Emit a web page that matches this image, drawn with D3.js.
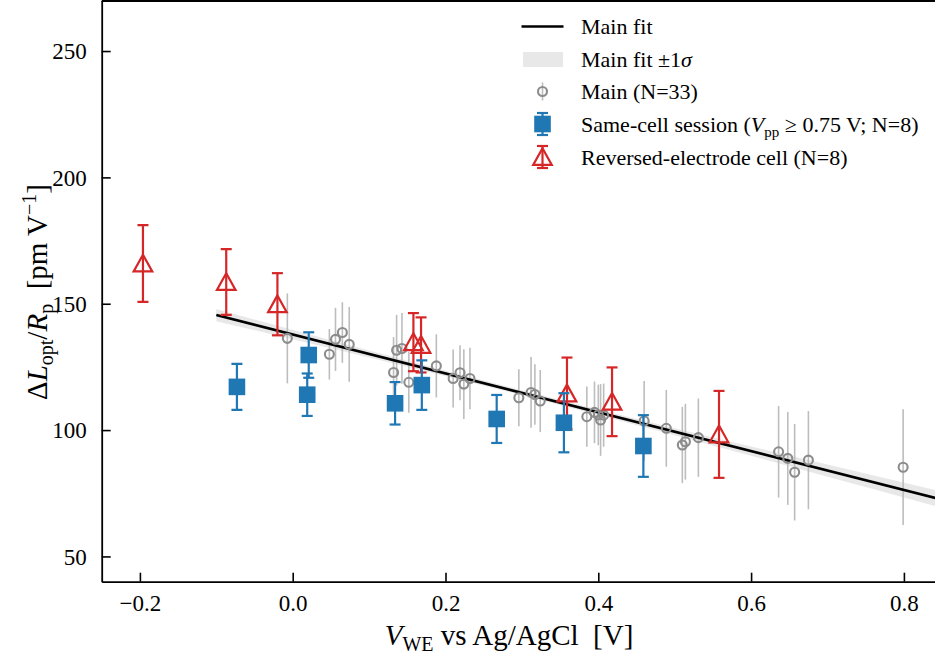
<!DOCTYPE html>
<html>
<head>
<meta charset="utf-8">
<script src="https://cdn.jsdelivr.net/npm/d3@7"></script>
<style>
  html, body { margin: 0; padding: 0; background: #fff; }
  svg { display: block; font-family: "Liberation Serif", "DejaVu Serif", serif; }
</style>
</head>
<body>
<svg id="chart" width="935" height="657"></svg>
<script>
// main data set (N=33): x [V], y [pm/V], err
const mainX = [-0.007, 0.048, 0.056, 0.065, 0.074, 0.132, 0.136, 0.143, 0.152, 0.188, 0.210, 0.219,
  0.224, 0.232, 0.296, 0.312, 0.317, 0.324, 0.385, 0.395, 0.403, 0.407, 0.460, 0.489, 0.510, 0.514,
  0.531, 0.636, 0.648, 0.657, 0.675, 0.799, 0.400];
const mainY = [136.3, 130.0, 135.9, 138.6, 133.9, 122.8, 131.6, 132.3, 118.9, 125.4, 120.4, 122.7,
  118.2, 120.4, 112.8, 114.9, 114.1, 111.5, 105.3, 107.0, 104.0, 105.9, 103.6, 100.7, 94.1, 95.4,
  97.0, 91.4, 88.8, 83.3, 88.1, 85.3, 106.0];
const mainErr = [17.8, 10, 12.5, 12, 14.8, 14, 14, 14, 12, 12.5, 11.5, 10.9,
  13.8, 12.2, 11.3, 14, 12, 12.3, 11.9, 12.2, 14.2, 12.5, 15.8, 15.2, 15.1, 15,
  15.5, 18.1, 18.4, 19.1, 19.4, 22.9, 12];

// same-cell session (N=8)
const sameX = [-0.073, 0.021, 0.019, 0.134, 0.169, 0.267, 0.355, 0.459];
const sameY = [117.1, 129.7, 114.0, 110.6, 117.8, 104.4, 102.9, 93.7];
const sameErr = [9.1, 9, 8.4, 8.4, 9.8, 9.5, 11.7, 12.2];

// reversed-electrode cell (N=8)
const revX = [-0.196, -0.087, -0.020, 0.158, 0.168, 0.359, 0.418, 0.558];
const revY = [165.9, 158.6, 149.8, 134.8, 133.7, 114.5, 111.2, 98.3];
const revErr = [15.2, 13, 12.3, 11.5, 10.9, 14.2, 13.6, 17.2];

// main fit and its 1-sigma band
const fitX = [-0.1, 0.9];
const fitY = [145.5, 68.6];
const bandX = [-0.1, 0.1, 0.3, 0.5, 0.7, 0.9];
const bandHalf = [2.4, 1.4, 1.0, 1.4, 2.4, 3.5];

const xTicks = [-0.2, 0.0, 0.2, 0.4, 0.6, 0.8];
const yTicks = [50, 100, 150, 200, 250];

const d3 = window.d3;
const svg = d3.select("#chart");
const W = 935, H = 657;
const plot = { left: 101.7, right: 942.1, top: 0.5, bottom: 581.7 };

const x = d3.scaleLinear().domain([-0.25, 0.85]).range([plot.left, plot.right]);
const y = d3.scaleLinear().domain([40, 270]).range([plot.bottom, plot.top]);

svg.append("defs").append("clipPath").attr("id", "clip")
  .append("rect")
  .attr("x", plot.left).attr("y", plot.top)
  .attr("width", plot.right - plot.left).attr("height", plot.bottom - plot.top);

const g = svg.append("g").attr("clip-path", "url(#clip)");

// band
const fitAt = (v) => fitY[0] + (fitY[1] - fitY[0]) * (v - fitX[0]) / (fitX[1] - fitX[0]);
const band = bandX.map((v, i) => ({ v, lo: fitAt(v) - bandHalf[i], hi: fitAt(v) + bandHalf[i] }));
g.append("path")
  .datum(band)
  .attr("fill", "#d9d9d9")
  .attr("fill-opacity", 0.6)
  .attr("d", d3.area().curve(d3.curveMonotoneX).x((d) => x(d.v)).y0((d) => y(d.lo)).y1((d) => y(d.hi)));

// main error bars + circles
const main = mainX.map((v, i) => ({ x: v, y: mainY[i], e: mainErr[i] }));
g.selectAll("line.mainerr")
  .data(main)
  .enter()
  .append("line")
  .attr("x1", (d) => x(d.x)).attr("x2", (d) => x(d.x))
  .attr("y1", (d) => y(d.y - d.e)).attr("y2", (d) => y(d.y + d.e))
  .attr("stroke", "#bdbdbd")
  .attr("stroke-width", 1.6);

// fit line
g.append("path")
  .datum(fitX.map((v, i) => [v, fitY[i]]))
  .attr("fill", "none")
  .attr("stroke", "#000")
  .attr("stroke-width", 2.6)
  .attr("d", d3.line().x((d) => x(d[0])).y((d) => y(d[1])));

g.selectAll("circle.main")
  .data(main)
  .enter()
  .append("circle")
  .attr("cx", (d) => x(d.x))
  .attr("cy", (d) => y(d.y))
  .attr("r", 4.5)
  .attr("fill", "none")
  .attr("stroke", "#8c8c8c")
  .attr("stroke-width", 2.1);

function errorBars(data, color, cap) {
  const eg = g.append("g").attr("stroke", color).attr("stroke-width", 2.2);
  data.forEach((d) => {
    const cx = x(d.x);
    eg.append("line").attr("x1", cx).attr("x2", cx).attr("y1", y(d.y - d.e)).attr("y2", y(d.y + d.e));
    eg.append("line").attr("x1", cx - cap).attr("x2", cx + cap).attr("y1", y(d.y - d.e)).attr("y2", y(d.y - d.e));
    eg.append("line").attr("x1", cx - cap).attr("x2", cx + cap).attr("y1", y(d.y + d.e)).attr("y2", y(d.y + d.e));
  });
}

const tri = (cx, cy, s) => `M${cx},${cy - s * 0.95}L${cx - s},${cy + s * 0.85}L${cx + s},${cy + s * 0.85}Z`;

// reversed-electrode
const rev = revX.map((v, i) => ({ x: v, y: revY[i], e: revErr[i] }));
errorBars(rev, "#d62728", 5.5);
g.selectAll("path.rev")
  .data(rev)
  .enter()
  .append("path")
  .attr("d", (d) => tri(x(d.x), y(d.y), 9.3))
  .attr("fill", "none")
  .attr("stroke", "#d62728")
  .attr("stroke-width", 2.2);

// same-cell
const same = sameX.map((v, i) => ({ x: v, y: sameY[i], e: sameErr[i] }));
errorBars(same, "#1f77b4", 5.5);
g.selectAll("rect.same")
  .data(same)
  .enter()
  .append("rect")
  .attr("x", (d) => x(d.x) - 8.3)
  .attr("y", (d) => y(d.y) - 8.3)
  .attr("width", 16.6)
  .attr("height", 16.6)
  .attr("fill", "#1f77b4");

// axes
const xAxis = svg.append("g")
  .attr("transform", `translate(0,${plot.bottom})`)
  .call(d3.axisBottom(x).tickValues(xTicks).tickFormat(d3.format(".1f")).tickSizeInner(-9).tickSizeOuter(0).tickPadding(13));
const yAxis = svg.append("g")
  .attr("transform", `translate(${plot.left},0)`)
  .call(d3.axisLeft(y).tickValues(yTicks).tickFormat(d3.format("d")).tickSizeInner(-9).tickSizeOuter(0).tickPadding(15));

[xAxis, yAxis].forEach((a) => {
  a.selectAll("text").attr("font-size", 23).attr("fill", "#000").attr("font-family", "Liberation Serif");
  a.selectAll(".tick line").attr("stroke", "#000").attr("stroke-width", 1.6);
  a.select(".domain").attr("stroke", "#000").attr("stroke-width", 1.8);
});
yAxis.selectAll("text").attr("dy", "0.34em");

// top spine
svg.append("line")
  .attr("x1", plot.left).attr("x2", W)
  .attr("y1", plot.top + 0.5).attr("y2", plot.top + 0.5)
  .attr("stroke", "#000").attr("stroke-width", 1.8);

// axis labels
const xl = svg.append("text")
  .attr("x", 509).attr("y", 645)
  .attr("text-anchor", "middle")
  .attr("font-size", 29);
xl.append("tspan").attr("font-style", "italic").text("V");
xl.append("tspan").attr("font-size", 20).attr("dy", 6).text("WE");
xl.append("tspan").attr("dy", -6).text(" vs Ag/AgCl\u00a0\u00a0[V]");

const yl = svg.append("text")
  .attr("transform", "translate(47,292) rotate(-90)")
  .attr("text-anchor", "middle")
  .attr("font-size", 29);
yl.append("tspan").text("Δ");
yl.append("tspan").attr("font-style", "italic").text("L");
yl.append("tspan").attr("font-size", 20).attr("dy", 6).text("opt");
yl.append("tspan").attr("dy", -6).text("/");
yl.append("tspan").attr("font-style", "italic").text("R");
yl.append("tspan").attr("font-size", 20).attr("dy", 6).text("p");
yl.append("tspan").attr("dy", -6).text("\u00a0\u00a0[pm V");
yl.append("tspan").attr("font-size", 20).attr("dy", -11).text("−1");
yl.append("tspan").attr("dy", 11).text("]");

// legend
const lg = svg.append("g");
const lx = 542.5, tx = 581;
const rows = [26.5, 59.5, 91.5, 124, 157];
lg.append("line").attr("x1", lx - 21).attr("x2", lx + 21).attr("y1", rows[0]).attr("y2", rows[0])
  .attr("stroke", "#000").attr("stroke-width", 2.6);
lg.append("rect").attr("x", lx - 19.5).attr("y", rows[1] - 7.5).attr("width", 40).attr("height", 15)
  .attr("fill", "#d9d9d9").attr("fill-opacity", 0.6);
lg.append("line").attr("x1", lx).attr("x2", lx).attr("y1", rows[2] - 9).attr("y2", rows[2] + 9)
  .attr("stroke", "#bdbdbd").attr("stroke-width", 1.6);
lg.append("circle").attr("cx", lx).attr("cy", rows[2]).attr("r", 4.5)
  .attr("fill", "none").attr("stroke", "#8c8c8c").attr("stroke-width", 2.1);
[[rows[3], "#1f77b4"], [rows[4], "#d62728"]].forEach(([ry, c]) => {
  lg.append("line").attr("x1", lx).attr("x2", lx).attr("y1", ry - 11).attr("y2", ry + 11).attr("stroke", c).attr("stroke-width", 2.2);
  lg.append("line").attr("x1", lx - 5.5).attr("x2", lx + 5.5).attr("y1", ry - 11).attr("y2", ry - 11).attr("stroke", c).attr("stroke-width", 2.2);
  lg.append("line").attr("x1", lx - 5.5).attr("x2", lx + 5.5).attr("y1", ry + 11).attr("y2", ry + 11).attr("stroke", c).attr("stroke-width", 2.2);
});
lg.append("rect").attr("x", lx - 8.3).attr("y", rows[3] - 8.3).attr("width", 16.6).attr("height", 16.6).attr("fill", "#1f77b4");
lg.append("path").attr("d", tri(lx, rows[4], 9.3)).attr("fill", "none").attr("stroke", "#d62728").attr("stroke-width", 2.2);

const ltext = (ry) => lg.append("text").attr("x", tx).attr("y", ry + 7.5).attr("font-size", 22);
ltext(rows[0]).text("Main fit");
const t1 = ltext(rows[1]);
t1.append("tspan").text("Main fit ±1");
t1.append("tspan").attr("font-style", "italic").text("σ");
ltext(rows[2]).text("Main (N=33)");
const t3 = ltext(rows[3]);
t3.append("tspan").text("Same-cell session (");
t3.append("tspan").attr("font-style", "italic").text("V");
t3.append("tspan").attr("font-size", 15).attr("dy", 5).text("pp");
t3.append("tspan").attr("dy", -5).text(" ≥ 0.75 V; N=8)");
ltext(rows[4]).text("Reversed-electrode cell (N=8)");
</script>
</body>
</html>
